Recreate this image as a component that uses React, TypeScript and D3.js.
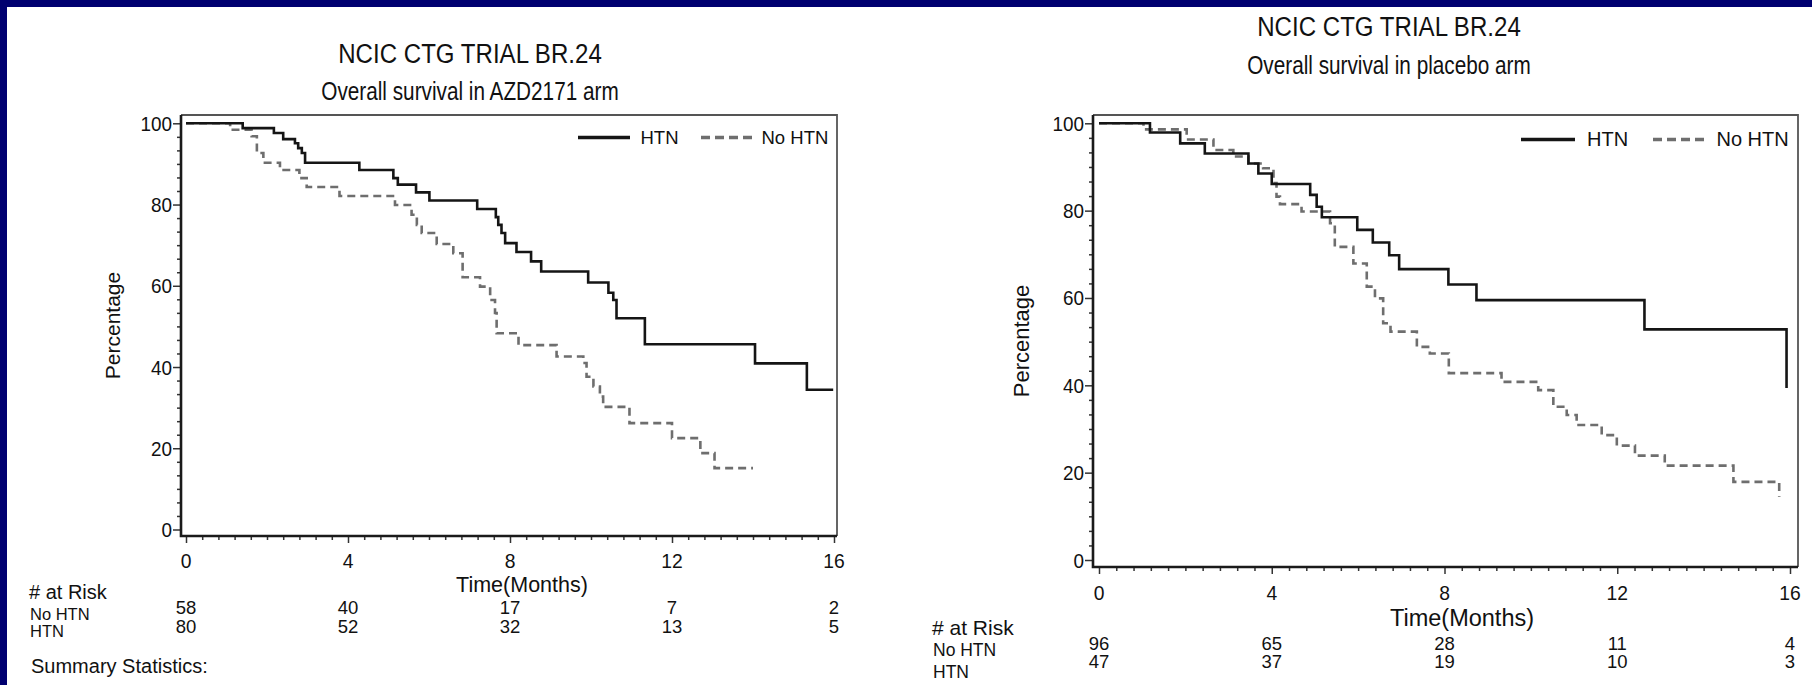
import React, { useRef, useEffect } from 'react';
import * as d3 from 'd3';

// AZD2171 arm, Kaplan-Meier steps (months, % surviving)
const azdHtnTime = [0, 1.4, 2.17, 2.4, 2.69, 2.77, 2.86, 2.94, 4.28, 5.12, 5.23, 5.68, 6.01, 7.19, 7.65, 7.71, 7.79, 7.88, 8.16, 8.52, 8.77, 9.93, 10.43, 10.55, 10.63, 11.33, 14.05, 15.33, 15.98];
const azdHtnPct = [100, 98.8, 97.6, 96.1, 95.1, 93.9, 92.7, 90.3, 88.5, 86.5, 84.9, 83.0, 81.0, 78.9, 76.9, 75.0, 73.0, 70.5, 68.3, 66.0, 63.5, 60.8, 58.3, 56.5, 52.0, 45.6, 40.9, 34.4, 34.4];
const azdNoHtnTime = [0, 1.09, 1.62, 1.75, 1.91, 2.32, 2.8, 2.98, 3.79, 5.16, 5.57, 5.7, 5.82, 6.19, 6.6, 6.83, 7.26, 7.51, 7.63, 7.67, 8.21, 9.15, 9.81, 9.89, 10.06, 10.22, 10.3, 10.95, 12.0, 12.7, 13.05, 14.0];
const azdNoHtnPct = [100, 98.4, 96.8, 92.7, 90.3, 88.5, 86.5, 84.3, 82.1, 79.9, 77.5, 75.0, 73.0, 70.3, 68.0, 62.1, 59.8, 56.5, 53.3, 48.3, 45.4, 42.6, 41.0, 37.6, 35.2, 32.7, 30.2, 26.2, 22.5, 18.8, 15.1, 15.1];

// placebo arm
const pboHtnTime = [0, 1.18, 1.88, 2.45, 3.46, 3.69, 4.0, 4.89, 5.04, 5.16, 5.98, 6.34, 6.72, 6.95, 8.09, 8.74, 12.63, 15.92];
const pboHtnPct = [100, 97.9, 95.4, 93.1, 90.8, 88.5, 86.1, 83.6, 80.9, 78.5, 75.6, 72.7, 69.8, 66.6, 63.1, 59.5, 52.8, 39.4];
const pboNoHtnTime = [0, 1.03, 2.03, 2.65, 3.11, 3.46, 3.8, 4.04, 4.11, 4.19, 4.69, 5.35, 5.46, 5.89, 6.2, 6.39, 6.58, 6.75, 7.36, 7.66, 8.1, 9.32, 10.17, 10.52, 10.83, 11.06, 11.64, 11.99, 12.41, 13.1, 14.69, 15.75];
const pboNoHtnPct = [100, 98.6, 96.3, 93.9, 92.4, 90.8, 89.7, 86.3, 83.2, 81.5, 79.8, 77.1, 71.7, 67.9, 62.6, 59.9, 54.2, 52.3, 48.8, 47.3, 42.8, 40.8, 38.9, 35.1, 33.2, 30.9, 28.6, 26.2, 23.9, 21.6, 17.9, 14.5];

// numbers at risk
const riskTimes = [0, 4, 8, 12, 16];
const azdRiskNoHtn = [58, 40, 17, 7, 2];
const azdRiskHtn = [80, 52, 32, 13, 5];
const pboRiskNoHtn = [96, 65, 28, 11, 4];
const pboRiskHtn = [47, 37, 19, 10, 3];

const xTicks = [0, 4, 8, 12, 16];
const yTicks = [0, 20, 40, 60, 80, 100];

const FONT = "'Liberation Sans', Arial, sans-serif";

const panels = [
  {
    title: 'NCIC CTG TRIAL BR.24', subtitle: 'Overall survival in AZD2171 arm',
    htn: [azdHtnTime, azdHtnPct], noHtn: [azdNoHtnTime, azdNoHtnPct],
    riskNo: azdRiskNoHtn, riskHtn: azdRiskHtn,
    left: 181, top: 115, right: 837, bottom: 536,
    xRange: [186, 834], yRange: [529.5, 123.3],
    titleX: 470, titleY: 63, subY: 100,
    leg: { y: 137.5, l1: [578, 630], t1: 640.5, l2: [701, 752], t2: 761.5, size: 18.5 },
    pctX: 120, pctSize: 21, timeX: 522, timeY: 592, timeSize: 21.5, tickY: 568,
    riskX: 29, riskHead: 599, headSize: 20, labSize: 16.5, riskLab: [620, 637], riskRows: [614, 633],
    summary: true
  },
  {
    title: 'NCIC CTG TRIAL BR.24', subtitle: 'Overall survival in placebo arm',
    htn: [pboHtnTime, pboHtnPct], noHtn: [pboNoHtnTime, pboNoHtnPct],
    riskNo: pboRiskNoHtn, riskHtn: pboRiskHtn,
    left: 1093, top: 115, right: 1798, bottom: 567,
    xRange: [1099, 1790], yRange: [560, 123.3],
    titleX: 1389, titleY: 36, subY: 74,
    leg: { y: 139.5, l1: [1521, 1575], t1: 1587, l2: [1653, 1704], t2: 1716.5, size: 20 },
    pctX: 1029, pctSize: 22, timeX: 1462, timeY: 626, timeSize: 23.5, tickY: 600,
    riskX: 932, riskHead: 635, headSize: 21, labSize: 17.5, riskLab: [656, 678], riskRows: [650, 668],
    summary: false
  }
];

// text helper: optional horizontal squeeze to mimic the narrow face of the original
const label = (g, x, y, str, size, sx = 1, anchor = 'start', rotate = 0) =>
  g.append('text')
    .attr('transform', `translate(${x},${y})${rotate ? ` rotate(${rotate})` : ''} scale(${sx},1)`)
    .attr('font-size', size).attr('text-anchor', anchor).text(str);

const App = () => {
  const ref = useRef(null);

  useEffect(() => {
    const svg = d3.select(ref.current);
    svg.selectAll('*').remove();

    svg.append('rect').attr('width', 1812).attr('height', 685).attr('fill', '#000070');
    svg.append('rect').attr('x', 7).attr('y', 7).attr('width', 1805).attr('height', 678).attr('fill', '#fff');

    panels.forEach(p => {
      const g = svg.append('g').attr('font-family', FONT).attr('fill', '#111');
      const x = d3.scaleLinear().domain([0, 16]).range(p.xRange);
      const y = d3.scaleLinear().domain([0, 100]).range(p.yRange);

      // titles
      label(g, p.titleX, p.titleY, p.title, 28, 0.86, 'middle');
      label(g, p.titleX, p.subY, p.subtitle, 25, 0.83, 'middle');

      // frame top/right
      g.append('path')
        .attr('d', `M${p.left},${p.top}H${p.right}V${p.bottom}`)
        .attr('fill', 'none').attr('stroke', '#555').attr('stroke-width', 1.8);

      // y axis ticks
      const yMinor = d3.range(0, 100.01, 20 / 6).filter(v => Math.abs(v / 20 - Math.round(v / 20)) > 0.01);
      g.append('g').attr('transform', `translate(${p.left},0)`)
        .call(d3.axisLeft(y).tickValues(yMinor).tickSize(4).tickFormat(() => ''))
        .call(a => a.select('.domain').remove());
      g.append('g').attr('transform', `translate(${p.left},0)`)
        .call(d3.axisLeft(y).tickValues(yTicks).tickSize(8).tickFormat(() => ''))
        .call(a => a.select('.domain').remove());
      yTicks.forEach(v => label(g, p.left - 9, y(v) + 7.5, String(v), 21, 0.9, 'end'));

      // x axis ticks
      const xMinor = d3.range(0, 16.01, 0.4).filter(v => Math.abs(v / 4 - Math.round(v / 4)) > 0.01);
      g.append('g').attr('transform', `translate(0,${p.bottom})`)
        .call(d3.axisBottom(x).tickValues(xMinor).tickSize(4).tickFormat(() => ''))
        .call(a => a.select('.domain').remove());
      g.append('g').attr('transform', `translate(0,${p.bottom})`)
        .call(d3.axisBottom(x).tickValues(xTicks).tickSize(7).tickFormat(() => ''))
        .call(a => a.select('.domain').remove());
      xTicks.forEach(v => label(g, x(v), p.tickY, String(v), 21, 0.92, 'middle'));

      g.selectAll('.tick line').attr('stroke', '#333').attr('stroke-width', 1.5);

      // left/bottom axis lines
      g.append('path')
        .attr('d', `M${p.left},${p.top}V${p.bottom}H${p.right}`)
        .attr('fill', 'none').attr('stroke', '#1a1a1a').attr('stroke-width', 2.6);

      // curves
      const line = d3.line().curve(d3.curveStepAfter).x(d => x(d[0])).y(d => y(d[1]));
      const pts = (s) => s[0].map((t, i) => [t, s[1][i]]);
      g.append('path').datum(pts(p.noHtn)).attr('d', line)
        .attr('fill', 'none').attr('stroke', '#6e6e6e').attr('stroke-width', 2.6).attr('stroke-dasharray', '8 5');
      g.append('path').datum(pts(p.htn)).attr('d', line)
        .attr('fill', 'none').attr('stroke', '#151515').attr('stroke-width', 2.6);

      // legend
      const L = p.leg;
      g.append('line').attr('x1', L.l1[0]).attr('x2', L.l1[1]).attr('y1', L.y).attr('y2', L.y)
        .attr('stroke', '#151515').attr('stroke-width', 3.4);
      label(g, L.t1, L.y + 6.5, 'HTN', L.size);
      g.append('line').attr('x1', L.l2[0]).attr('x2', L.l2[1]).attr('y1', L.y).attr('y2', L.y)
        .attr('stroke', '#6e6e6e').attr('stroke-width', 3.4).attr('stroke-dasharray', '9 5');
      label(g, L.t2, L.y + 6.5, 'No HTN', L.size);

      // axis titles
      label(g, p.pctX, (p.top + p.bottom) / 2, 'Percentage', p.pctSize, 1, 'middle', -90);
      label(g, p.timeX, p.timeY, 'Time(Months)', p.timeSize, 1, 'middle');

      // at-risk table
      label(g, p.riskX, p.riskHead, '# at Risk', p.headSize);
      label(g, p.riskX + 1, p.riskLab[0], 'No HTN', p.labSize);
      label(g, p.riskX + 1, p.riskLab[1], 'HTN', p.labSize);
      [p.riskNo, p.riskHtn].forEach((row, r) => {
        g.selectAll(null).data(row).enter().append('text')
          .attr('x', (d, i) => x(riskTimes[i])).attr('y', p.riskRows[r])
          .attr('text-anchor', 'middle').attr('font-size', 18.5).text(d => d);
      });

      if (p.summary) label(g, p.riskX + 2, 673, 'Summary Statistics:', 20);
    });
  }, []);

  return (
    <svg ref={ref} width={1812} height={685} style={{ position: 'absolute', left: 0, top: 0 }}></svg>
  );
};

export default App;
